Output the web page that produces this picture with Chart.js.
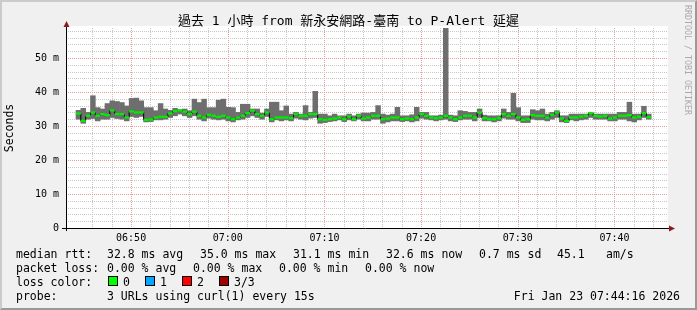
<!DOCTYPE html>
<html>
<head>
<meta charset="utf-8">
<script src="https://cdn.jsdelivr.net/npm/chart.js@4.4.1/dist/chart.umd.min.js"></script>
<style>
  body { margin: 0; background: #fff; }
  #wrap { position: relative; width: 697px; height: 310px; background: #f0f0f0; overflow: hidden;
          font-family: 'DejaVu Sans Mono', 'Noto Sans CJK TC', monospace; color: #000; }
  #frame { position: absolute; inset: 0; box-sizing: border-box;
           border-top: 2px solid #cbcbcb; border-left: 2px solid #cbcbcb;
           border-bottom: 2px solid #999; border-right: 2px solid #999; }
  canvas { position: absolute; left: 0; top: 0; }
  .t { position: absolute; white-space: pre; font-size: 11.5px; line-height: 14px; }
  #title { position: absolute; left: 0; width: 697px; top: 13px; text-align: center;
           font-size: 13px; line-height: 16px; white-space: pre; }
  #mark { position: absolute; left: 683px; top: 5px; writing-mode: vertical-rl;
          font-size: 8.3px; line-height: 10px; color: #aaa; white-space: pre; }
  .box { position: absolute; width: 8px; height: 8px; border: 1px solid #000; top: 276px; }
</style>
</head>
<body>
<div id="wrap">
  <div id="frame"></div>
  <canvas id="rtt" width="697" height="310"></canvas>
  <div id="title">過去 1 小時 from 新永安網路-臺南 to P-Alert 延遲</div>
  <div id="mark">RRDTOOL / TOBI OETIKER</div>

  <div class="t" style="left:16px;top:247px">median rtt:</div>
  <div class="t" style="left:107px;top:247px">32.8 ms avg</div>
  <div class="t" style="left:200px;top:247px">35.0 ms max</div>
  <div class="t" style="left:293px;top:247px">31.1 ms min</div>
  <div class="t" style="left:386px;top:247px">32.6 ms now</div>
  <div class="t" style="left:479px;top:247px">0.7 ms sd</div>
  <div class="t" style="left:557px;top:247px">45.1</div>
  <div class="t" style="left:606px;top:247px">am/s</div>

  <div class="t" style="left:16px;top:261px">packet loss:</div>
  <div class="t" style="left:107px;top:261px">0.00 % avg</div>
  <div class="t" style="left:193px;top:261px">0.00 % max</div>
  <div class="t" style="left:279px;top:261px">0.00 % min</div>
  <div class="t" style="left:365px;top:261px">0.00 % now</div>

  <div class="t" style="left:16px;top:275px">loss color:</div>
  <div class="box" style="left:108px;background:#00ff00"></div>
  <div class="t" style="left:123px;top:275px">0</div>
  <div class="box" style="left:145px;background:#00a8ff"></div>
  <div class="t" style="left:160px;top:275px">1</div>
  <div class="box" style="left:182px;background:#ff0000"></div>
  <div class="t" style="left:197px;top:275px">2</div>
  <div class="box" style="left:219px;background:#a00000"></div>
  <div class="t" style="left:234px;top:275px">3/3</div>

  <div class="t" style="left:16px;top:289px">probe:</div>
  <div class="t" style="left:107px;top:289px">3 URLs using curl(1) every 15s</div>
  <div class="t" style="right:17px;top:289px">Fri Jan 23 07:44:16 2026</div>
</div>

<script>
// minutes after 06:00; first sample step starts 06:44:18, one step = 30 s
const START_MIN = 44.3;
const STEP_MIN = 0.5;
const Y_MAX = 58.8235;

const TICK_MINUTES = [50, 60, 70, 80, 90, 100];
const TICK_LABELS = ['06:50', '07:00', '07:10', '07:20', '07:30', '07:40'];

// median rtt per step (ms)
const MEDIAN = [
  33.7, 31.5, 33.0, 34.0, 33.0, 33.5, 33.2, 34.6, 33.5, 33.5,
  32.5, 34.3, 34.0, 34.0, 31.8, 31.9, 32.5, 32.7, 32.7, 33.7,
  34.4, 34.6, 34.2, 33.5, 34.2, 33.0, 32.5, 33.3, 33.0, 32.7,
  33.0, 32.5, 32.0, 32.5, 33.0, 33.8, 34.5, 33.5, 33.0, 34.0,
  32.0, 32.5, 32.5, 32.5, 32.3, 33.5, 33.0, 33.0, 33.5, 33.5,
  32.0, 31.8, 32.0, 32.2, 32.5, 32.0, 32.8, 32.0, 33.0, 32.2,
  32.5, 33.0, 33.0, 32.0, 32.2, 32.5, 32.5, 32.0, 32.2, 32.0,
  32.5, 33.5, 33.0, 32.5, 32.3, 32.5, 33.0, 32.5, 32.0, 32.5,
  33.0, 33.0, 32.5, 34.0, 32.3, 32.0, 32.0, 32.3, 33.5, 33.0,
  33.5, 32.5, 31.8, 32.0, 33.2, 33.0, 33.0, 32.5, 33.3, 34.0,
  32.2, 31.5, 32.5, 32.5, 32.8, 33.0, 33.8, 33.0, 32.8, 33.0,
  32.2, 32.5, 33.0, 33.0, 33.2, 32.5, 32.7, 33.8, 32.6
];

// smoke: lowest and highest rtt per step (ms)
const MIN_RTT = [
  32.0, 30.8, 32.0, 32.2, 31.5, 32.0, 32.0, 32.5, 32.2, 32.0,
  31.5, 32.8, 32.5, 32.8, 31.2, 31.3, 31.8, 31.8, 32.0, 32.5,
  33.0, 33.5, 33.0, 32.5, 33.0, 32.0, 31.5, 32.3, 32.0, 31.8,
  32.0, 31.5, 31.2, 31.8, 32.0, 32.5, 33.0, 32.5, 32.0, 32.8,
  31.2, 31.8, 31.5, 31.8, 31.5, 32.3, 32.0, 31.8, 32.3, 32.5,
  30.8, 31.0, 31.3, 31.5, 31.8, 31.3, 31.8, 31.5, 32.0, 31.5,
  31.5, 32.0, 32.0, 30.8, 31.2, 31.5, 31.5, 31.3, 31.5, 31.2,
  31.5, 32.3, 32.0, 31.8, 31.5, 31.8, 32.0, 31.5, 31.3, 31.8,
  32.0, 32.0, 31.5, 32.5, 31.5, 31.5, 31.2, 31.5, 32.3, 32.0,
  32.0, 31.5, 31.0, 31.0, 32.0, 31.8, 31.8, 31.5, 32.0, 32.5,
  31.2, 31.0, 31.8, 31.5, 31.8, 32.0, 32.5, 32.0, 32.0, 32.0,
  31.5, 31.5, 32.0, 32.0, 31.5, 31.2, 31.8, 32.5, 32.0
];

const MAX_RTT = [
  34.6, 35.2, 34.0, 38.9, 35.4, 35.0, 36.6, 37.4, 37.2, 36.9,
  35.9, 38.1, 38.2, 37.4, 35.4, 35.4, 34.5, 36.6, 35.0, 34.6,
  35.2, 34.8, 35.0, 34.5, 37.9, 36.9, 37.9, 35.4, 35.4, 37.6,
  37.9, 35.5, 35.4, 34.0, 36.4, 36.4, 35.0, 35.0, 33.8, 35.0,
  37.0, 37.0, 34.5, 35.9, 33.5, 34.0, 33.5, 36.0, 34.0, 40.2,
  33.5, 33.5, 33.0, 33.5, 33.0, 33.0, 33.5, 33.0, 33.5, 33.8,
  33.8, 34.0, 36.0, 33.5, 33.2, 33.5, 35.5, 33.0, 33.0, 33.3,
  35.5, 34.0, 34.0, 33.0, 33.0, 33.2, 58.8, 33.2, 33.0, 34.5,
  34.3, 34.0, 34.0, 35.0, 33.2, 33.0, 33.0, 33.0, 35.0, 34.0,
  39.6, 35.4, 33.0, 33.0, 34.8, 34.5, 35.0, 33.5, 34.0, 34.5,
  33.0, 33.0, 33.5, 33.5, 33.5, 33.5, 34.0, 33.5, 33.5, 33.5,
  33.5, 33.5, 34.0, 34.0, 37.0, 33.5, 33.5, 35.8, 33.5
];

const FONT = "'DejaVu Sans Mono', monospace";
const MINOR = '#c8c8c8';
const MAJOR = '#eb9a9a';

const stepTime = i => START_MIN + STEP_MIN * i + STEP_MIN / 2;
const isMajor = v => Math.abs(v - Math.round(v)) < 1e-6 && Math.round(v) % 10 === 0;

// grid every 2 units (2 minutes / 2 ms)
function gridTicks(from, to) {
  const out = [];
  for (let v = from; v <= to; v += 2) out.push({ value: v });
  return out;
}

const frame = {
  id: 'frame',
  beforeDraw(chart) {
    const { ctx, chartArea: a } = chart;
    ctx.save();
    ctx.fillStyle = '#fff';
    ctx.fillRect(a.left, a.top - 2, a.right - a.left + 2, a.bottom - a.top + 2);
    ctx.restore();
  },
  beforeDatasetsDraw(chart) {
    const { ctx, chartArea: a, scales: { x, y } } = chart;
    ctx.save();
    ctx.lineWidth = 1;
    ctx.setLineDash([1, 1]);
    x.ticks.forEach(t => {
      const px = Math.round(x.getPixelForValue(t.value)) + 0.5;
      ctx.strokeStyle = isMajor(t.value) ? MAJOR : MINOR;
      ctx.beginPath();
      ctx.moveTo(px, a.top);
      ctx.lineTo(px, a.bottom);
      ctx.stroke();
    });
    y.ticks.forEach(t => {
      const py = Math.round(y.getPixelForValue(t.value)) + 0.5;
      ctx.strokeStyle = isMajor(t.value) ? MAJOR : MINOR;
      ctx.beginPath();
      ctx.moveTo(a.left, py);
      ctx.lineTo(a.right + 2, py);
      ctx.stroke();
    });
    ctx.restore();
  },
  afterDraw(chart) {
    const { ctx, chartArea: a } = chart;
    ctx.save();
    ctx.strokeStyle = '#000';
    ctx.lineWidth = 1;
    ctx.beginPath();
    ctx.moveTo(a.left - 4, a.bottom + 0.5);
    ctx.lineTo(a.right + 3, a.bottom + 0.5);
    ctx.moveTo(a.left + 0.5, a.bottom + 3);
    ctx.lineTo(a.left + 0.5, a.top - 2);
    ctx.stroke();
    // arrow heads
    ctx.fillStyle = '#8a1c1c';
    ctx.beginPath();
    ctx.moveTo(a.left + 0.5, a.top - 7);
    ctx.lineTo(a.left - 2.5, a.top - 1);
    ctx.lineTo(a.left + 3.5, a.top - 1);
    ctx.fill();
    ctx.beginPath();
    ctx.moveTo(a.right + 9, a.bottom + 0.5);
    ctx.lineTo(a.right + 3, a.bottom - 2.5);
    ctx.lineTo(a.right + 3, a.bottom + 3.5);
    ctx.fill();
    ctx.restore();
  }
};

new Chart(document.getElementById('rtt'), {
  type: 'bar',
  data: {
    datasets: [
      {
        type: 'line',
        order: 1,
        data: MEDIAN.map((m, i) => ({ x: stepTime(i), y: m })),
        stepped: 'middle',
        borderColor: '#000',
        borderWidth: 1,
        pointStyle: 'line',
        pointRadius: 2.5,
        pointBorderWidth: 2.3,
        pointBorderColor: '#00ee00',
        pointBackgroundColor: '#00ee00'
      },
      {
        order: 2,
        data: MIN_RTT.map((lo, i) => ({ x: stepTime(i), y: [lo, MAX_RTT[i]] })),
        backgroundColor: '#6e6e6e',
        borderWidth: 0,
        grouped: false,
        barPercentage: 1,
        categoryPercentage: 1
      }
    ]
  },
  options: {
    responsive: false,
    animation: false,
    devicePixelRatio: 1,
    layout: { padding: { left: 0, top: 28, right: 31, bottom: 58 } },
    plugins: { legend: { display: false }, tooltip: { enabled: false }, title: { display: false } },
    scales: {
      x: {
        type: 'linear',
        min: START_MIN,
        max: START_MIN + 60,
        afterBuildTicks: s => { s.ticks = gridTicks(46, 104); },
        afterFit: s => { s.height = 24; },
        ticks: {
          autoSkip: false,
          maxRotation: 0,
          padding: 4,
          color: '#000',
          font: { family: FONT, size: 10 },
          callback: v => {
            const k = TICK_MINUTES.indexOf(Math.round(v));
            return k >= 0 && Math.abs(v - Math.round(v)) < 1e-6 ? TICK_LABELS[k] : '';
          }
        },
        grid: { display: false, drawTicks: false },
        border: { display: false }
      },
      y: {
        min: 0,
        max: Y_MAX,
        afterBuildTicks: s => { s.ticks = gridTicks(0, 58); },
        afterFit: s => { s.width = 66; },
        ticks: {
          autoSkip: false,
          padding: 7,
          color: '#000',
          font: { family: FONT, size: 10 },
          callback: v => isMajor(v) ? (v === 0 ? '0' : Math.round(v) + ' m') : ''
        },
        grid: { display: false, drawTicks: false },
        border: { display: false },
        title: {
          display: true,
          text: 'Seconds',
          color: '#000',
          font: { family: FONT, size: 11.5 },
          padding: { top: 3, bottom: 0 }
        }
      }
    }
  },
  plugins: [frame]
});
</script>
</body>
</html>
